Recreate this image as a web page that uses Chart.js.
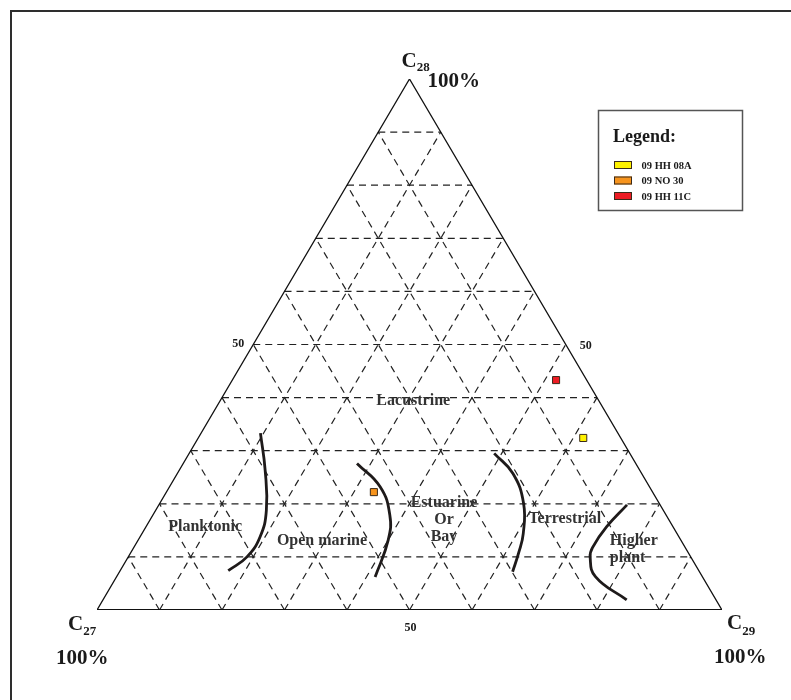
<!DOCTYPE html>
<html><head><meta charset="utf-8">
<script src="https://cdn.jsdelivr.net/npm/chart.js@4.4.1/dist/chart.umd.min.js"></script>
<style>html,body{margin:0;padding:0;background:#fff}#wrap{width:791px;height:700px;position:relative}</style>
</head><body><div id="wrap"><canvas id="c" width="791" height="700"></canvas></div>
<script>
// ---- sample data (percent) ----
const samples = ['09 HH 08A', '09 NO 30', '09 HH 11C'];
const c27 = [6.0, 44.6, 4.9];
const c28 = [32.4, 22.2, 43.3];
const c29 = [61.6, 33.2, 51.8];
const sampleColors = ['#FFF200', '#F7941D', '#ED1C24'];

// ---- grid / tick values (percent) ----
const gridSteps = [10, 20, 30, 40, 50, 60, 70, 80, 90];
const edgeTick = 50;

// ---- boundary curves as [C29 %, C28 %] (C27 = remainder) ----
const curvePlankticOpen = [[9.5, 33.3], [13.7, 26.4], [17.7, 18.8], [19.2, 13.8], [19.0, 10.0], [17.3, 7.4]];
const curveOpenEstuarine = [[27.8, 27.6], [33.7, 23.2], [37.9, 17.9], [40.0, 13.2], [41.4, 6.2]];
const curveEstuarineTerr = [[48.8, 29.5], [53.7, 25.7], [58.2, 20.1], [61.0, 14.4], [62.1, 10.7], [62.9, 7.2]];
const curveTerrHigher = [[74.9, 19.8], [73.7, 15.7], [73.4, 11.9], [73.9, 10.0], [76.6, 6.3], [83.8, 1.9]];

// ---- region names ----
const regionNames = ['Lacustrine', 'Planktonic', 'Open marine', 'Estuarine\nOr\nBay', 'Terrestrial', 'Higher\nplant'];
// annotation anchors [C29 %, C28 %] and alignment
const regionAnchors = [[30.95, 39.3, 'center'], [9.5, 15.6, 'center'], [29.5, 13.0, 'center'], [47.05, 16.95, 'center'], [66.3, 17.1, 'center'], [76.3, 11.5, 'left']];

const toXY = (p29, p28) => ({ x: (p29 + p28 / 2) / 100, y: p28 / 100 });

const datasets = [];
// sample points
samples.forEach((s, i) => {
  datasets.push({
    label: s, data: [toXY(c29[i], c28[i])], pointStyle: 'rect', pointRadius: 5,
    pointHoverRadius: 5, backgroundColor: sampleColors[i], borderColor: '#3a2a1a', borderWidth: 1,
    showLine: false, order: 0
  });
});
// curves
[curvePlankticOpen, curveOpenEstuarine, curveEstuarineTerr, curveTerrHigher].forEach(cv => {
  datasets.push({
    data: cv.map(p => toXY(p[0], p[1])), showLine: true, pointRadius: 0, borderColor: '#1e1a1a',
    borderWidth: 2.8, tension: 0.45, fill: false, order: 1
  });
});
// grid lines
gridSteps.forEach(k => {
  const f = k / 100;
  const lines = [
    [{ x: f / 2, y: f }, { x: 1 - f / 2, y: f }],            // constant C28
    [{ x: f, y: 0 }, { x: f + (1 - f) / 2, y: 1 - f }],        // constant C29
    [{ x: 1 - f, y: 0 }, { x: (1 - f) / 2, y: 1 - f }]         // constant C27
  ];
  lines.forEach(l => datasets.push({
    data: l, showLine: true, pointRadius: 0, borderColor: '#222', borderWidth: 1.2,
    borderDash: [7, 5], order: 3
  }));
});
// triangle outline
datasets.push({ data: [{ x: 0, y: 0 }, { x: 0.5, y: 1 }, { x: 1, y: 0 }], showLine: true, pointRadius: 0, borderColor: '#111', borderWidth: 1.3, order: 2 });
datasets.push({ data: [{ x: 0, y: 0 }, { x: 1, y: 0 }], showLine: true, pointRadius: 0, borderColor: '#111', borderWidth: 2.2, order: 2 });

const serif = '"Liberation Serif", "Times New Roman", serif';

const textPlugin = {
  id: 'ternaryText',
  afterDraw(chart) {
    const { ctx, scales: { x, y } } = chart;
    const px = (p29, p28) => { const q = toXY(p29, p28); return [x.getPixelForValue(q.x), y.getPixelForValue(q.y)]; };
    ctx.save();
    // frame (top and left)
    ctx.fillStyle = '#2e2e2e';
    ctx.fillRect(10, 10, 781, 2);
    ctx.fillRect(10, 10, 2, 690);

    ctx.fillStyle = '#1a1a1a';
    ctx.textBaseline = 'alphabetic';
    const vertexLabel = (name, sub, vx, vy, dx, dy, sdy, px100, py100) => {
      ctx.textAlign = 'left';
      ctx.font = 'bold 21px ' + serif;
      ctx.fillText(name, vx + dx, vy + dy);
      const w = ctx.measureText(name).width;
      ctx.font = 'bold 13px ' + serif;
      ctx.fillText(sub, vx + dx + w, vy + dy + sdy);
      ctx.font = 'bold 21px ' + serif;
      ctx.fillText('100%', vx + px100, vy + py100);
    };
    const [tx, ty] = px(0, 100);
    const [lx, ly] = px(0, 0);
    const [rx, ry] = px(100, 0);
    vertexLabel('C', '28', tx, ty, -8, -12, 4, 18, 8);
    vertexLabel('C', '27', lx, ly, -29, 20, 5, -41, 54);
    vertexLabel('C', '29', rx, ry, 5, 19, 6, -8, 53);

    // 50 ticks on edges
    ctx.font = 'bold 12px ' + serif;
    ctx.textBaseline = 'middle';
    let [ax, ay] = px(0, edgeTick);
    ctx.textAlign = 'right'; ctx.fillText(String(edgeTick), ax - 9, ay - 1);
    [ax, ay] = px(100 - edgeTick, edgeTick);
    ctx.textAlign = 'left'; ctx.fillText(String(edgeTick), ax + 14, ay + 1);
    [ax, ay] = px(edgeTick, 0);
    ctx.textAlign = 'center'; ctx.fillText(String(edgeTick), ax + 1, ay + 18);

    // region labels
    ctx.font = 'bold 16px ' + serif;
    ctx.fillStyle = '#333';
    regionNames.forEach((nm, i) => {
      const [a29, a28, al] = regionAnchors[i];
      const [cx, cy] = px(a29, a28);
      const parts = nm.split('\n');
      const lh = 17;
      ctx.textAlign = al;
      parts.forEach((t, j) => ctx.fillText(t, cx, cy + (j - (parts.length - 1) / 2) * lh));
    });

    // legend box
    ctx.strokeStyle = '#555';
    ctx.lineWidth = 1.5;
    ctx.strokeRect(598.5, 110.5, 144, 100);
    ctx.fillStyle = '#1a1a1a';
    ctx.textAlign = 'left';
    ctx.textBaseline = 'alphabetic';
    ctx.font = 'bold 18px ' + serif;
    ctx.fillText('Legend:', 613, 142);
    ctx.font = 'bold 10.5px ' + serif;
    samples.forEach((s, i) => {
      const top = 161 + i * 15.5;
      ctx.fillStyle = sampleColors[i];
      ctx.fillRect(614, top, 18, 8);
      ctx.strokeStyle = '#3a2a1a'; ctx.lineWidth = 1;
      ctx.strokeRect(614.5, top + 0.5, 17, 7);
      ctx.fillStyle = '#1a1a1a';
      ctx.fillText(s, 641.5, top + 7.5);
    });
    ctx.restore();
  }
};

new Chart(document.getElementById('c'), {
  type: 'scatter',
  data: { datasets },
  options: {
    responsive: false, animation: false,
    layout: { padding: { left: 97, right: 69, top: 79, bottom: 90 } },
    scales: {
      x: { type: 'linear', min: 0, max: 1, display: false },
      y: { type: 'linear', min: 0, max: 1, display: false }
    },
    plugins: { legend: { display: false }, tooltip: { enabled: false } },
    elements: { line: { capBezierPoints: true } }
  },
  plugins: [textPlugin]
});
</script>
</body></html>
